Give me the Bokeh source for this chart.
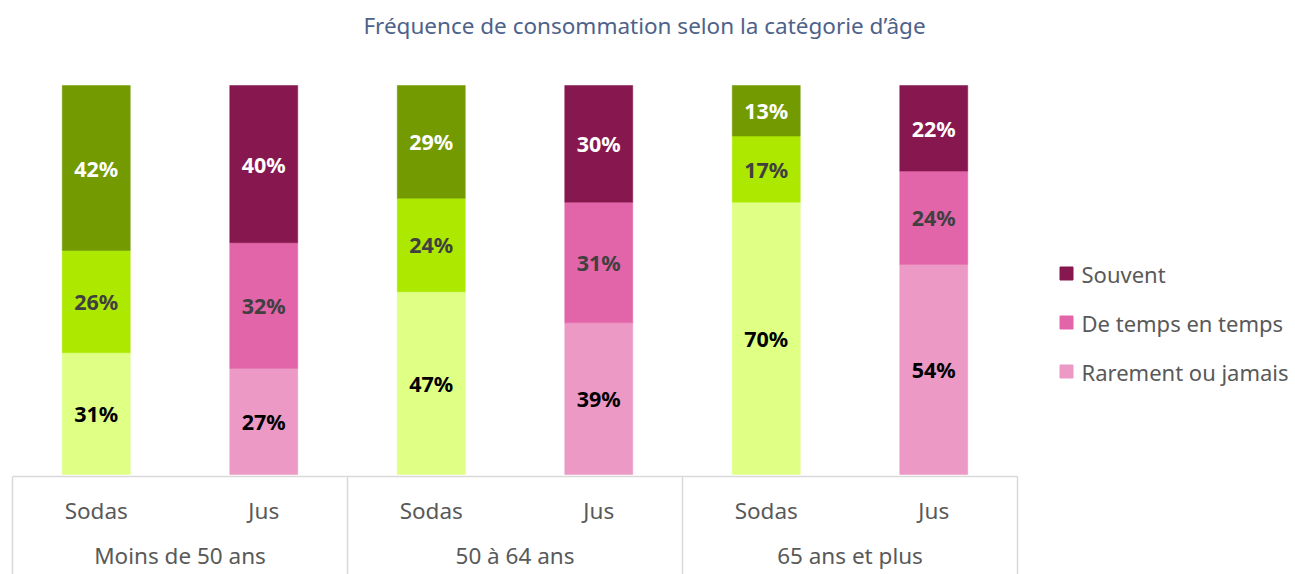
from bokeh.plotting import figure
from bokeh.models import ColumnDataSource, Range1d
from bokeh.core.properties import value
from bokeh.embed import file_html
from bokeh.resources import INLINE

# ---- data ----
groups = ["Moins de 50 ans", "50 à 64 ans", "65 ans et plus"]
products = ["Sodas", "Jus"]
rarement = [31, 27, 47, 39, 70, 54]
de_temps = [26, 32, 24, 31, 17, 24]
souvent = [42, 40, 29, 30, 13, 22]
series_names = ["Rarement ou jamais", "De temps en temps", "Souvent"]
soda_colors = ["#DFFF85", "#ADE800", "#739A00"]
jus_colors = ["#EC99C6", "#E265A9", "#86174F"]
label_colors = ["#000000", "#404040", "#FFFFFF"]
title_text = "Fréquence de consommation selon la catégorie d’âge"

FONT = "Noto Sans"
W, H = 1295, 574
ORG = 0.0              # page offset of the figure
X0, XU = 12.0, 335.0   # page x of group 0 start, px per group
Y0, YU = 474.0, 389.0  # page y of baseline, px per 100%
def dx(px):
    return (px - X0) / XU
def dy(py):
    return (Y0 - py) / YU

p = figure(width=W, height=H, output_backend="svg", toolbar_location=None,
           x_range=Range1d(dx(ORG), dx(ORG + W)), y_range=Range1d(dy(ORG + H), dy(ORG)),
           min_border=0, min_border_left=0, min_border_right=0,
           min_border_top=0, min_border_bottom=0)
p.xaxis.visible = False
p.yaxis.visible = False
p.grid.visible = False
p.outline_line_color = None
p.background_fill_color = "white"
p.border_fill_color = "white"

# ---- stacked bars (normalised to 100 %) ----
xs, bottoms, tops, colors, labels, lcolors, mids = [], [], [], [], [], [], []
bar_x = []
for gi in range(len(groups)):
    for pi in range(len(products)):
        idx = gi * len(products) + pi
        x = gi + (pi + 0.5) / len(products)
        bar_x.append(x)
        vals = [rarement[idx], de_temps[idx], souvent[idx]]
        tot = float(sum(vals))
        cols = soda_colors if products[pi] == "Sodas" else jus_colors
        acc = 0.0
        for si, v in enumerate(vals):
            b = acc / tot
            t = (acc + v) / tot
            acc += v
            xs.append(x); bottoms.append(b); tops.append(t)
            colors.append(cols[si]); labels.append(f"{v}%")
            lcolors.append(label_colors[si]); mids.append((b + t) / 2)

src = ColumnDataSource(dict(x=xs, bottom=bottoms, top=tops, color=colors,
                            label=labels, lcolor=lcolors, mid=mids))
p.vbar(x="x", bottom="bottom", top="top", width=68 / XU, fill_color="color",
       line_color="color", line_width=0.5, source=src)
p.text(x="x", y="mid", text="label", text_color="lcolor", source=src,
       text_align="center", text_baseline="middle", text_font=value(FONT),
       text_font_size="21.5px", text_font_style="bold")

# ---- category axis box ----
line_c = "#D9D9D9"
n = len(groups)
p.segment(x0=[0], y0=[dy(476)], x1=[n], y1=[dy(476)],
          line_color=line_c, line_width=1.5)
p.segment(x0=list(range(n + 1)), y0=[dy(476)] * (n + 1),
          x1=list(range(n + 1)), y1=[dy(ORG + H)] * (n + 1),
          line_color=line_c, line_width=1.5)
tick_labels = [products[i % len(products)] for i in range(len(bar_x))]
p.text(x=bar_x, y=[dy(510)] * len(bar_x), text=tick_labels, text_color="#595959",
       text_align="center", text_baseline="middle", text_font=value(FONT),
       text_font_size="22.5px")
p.text(x=[g + 0.5 for g in range(n)], y=[dy(555)] * n,
       text=groups, text_color="#595959", text_align="center",
       text_baseline="middle", text_font=value(FONT), text_font_size="22.5px")

# ---- title ----
p.text(x=[dx(644)], y=[dy(25)], text=[title_text], text_color="#4E6289",
       text_align="center", text_baseline="middle", text_font=value(FONT),
       text_font_size="22.5px")

# ---- legend (pink series, top to bottom) ----
leg_names = series_names[::-1]
leg_cols = jus_colors[::-1]
leg_y = [dy(273), dy(322), dy(371)]
p.scatter(x=[dx(1066)] * 3, y=leg_y, marker="square", size=13,
          fill_color=leg_cols, line_color=leg_cols)
p.text(x=[dx(1081)] * 3, y=leg_y, text=leg_names, text_color="#595959",
       text_align="left", text_baseline="middle", text_font=value(FONT),
       text_font_size="22px")

open("out.html", "w").write(file_html(p, INLINE))
